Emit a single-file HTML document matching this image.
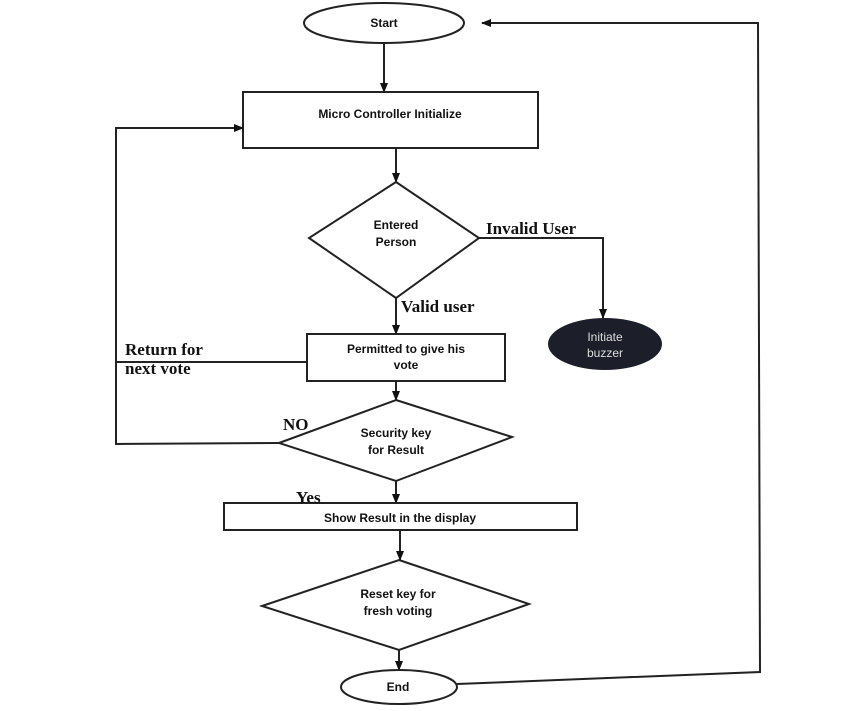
<!DOCTYPE html>
<html><head><meta charset="utf-8"><style>
html,body{margin:0;padding:0;background:#fff;}
svg{display:block;}
.s{font-family:"Liberation Sans",sans-serif;font-size:12px;font-weight:bold;fill:#111;}
.r{font-family:"Liberation Serif",serif;font-size:17px;font-weight:bold;fill:#111;}
</style></head><body>
<svg width="844" height="711" viewBox="0 0 844 711" xmlns="http://www.w3.org/2000/svg">
<defs><marker id="a" markerWidth="10" markerHeight="10" refX="9" refY="5" orient="auto" markerUnits="userSpaceOnUse"><path d="M0,1 L10,5 L0,9 z" fill="#111"/></marker></defs>
<g stroke="#222" stroke-width="2" fill="none">
<ellipse cx="384" cy="23" rx="80" ry="20"/>
<line x1="384" y1="43" x2="384" y2="92" marker-end="url(#a)"/>
<rect x="243" y="92" width="295" height="56"/>
<line x1="396" y1="148" x2="396" y2="182" marker-end="url(#a)"/>
<polygon points="396,182 479,238 396,298 309,238"/>
<polyline points="479,238 603,238 603,318" marker-end="url(#a)"/>
<line x1="396" y1="298" x2="396" y2="334" marker-end="url(#a)"/>
<rect x="307" y="334" width="198" height="47"/>
<polyline points="307,362 116,362"/>
<polyline points="279,443 116,444 116,128 243,128" marker-end="url(#a)"/>
<line x1="396" y1="381" x2="396" y2="400" marker-end="url(#a)"/>
<polygon points="396,400 512,437 396,481 279,443"/>
<line x1="396" y1="481" x2="396" y2="503" marker-end="url(#a)"/>
<rect x="224" y="503" width="353" height="27"/>
<line x1="400" y1="530" x2="400" y2="560" marker-end="url(#a)"/>
<polygon points="399,560 529,604 399,650 262,606"/>
<line x1="399" y1="650" x2="399" y2="670" marker-end="url(#a)"/>
<ellipse cx="399" cy="687" rx="58" ry="17"/>
<polyline points="457,684 760,672 758,23 482,23" marker-end="url(#a)"/>
</g>
<ellipse cx="605" cy="344" rx="57" ry="26" fill="#1c1f2a"/>
<text class="s" x="384" y="27" text-anchor="middle">Start</text>
<text class="s" x="390" y="118" text-anchor="middle">Micro Controller Initialize</text>
<text class="s" x="396" y="229" text-anchor="middle">Entered</text>
<text class="s" x="396" y="246" text-anchor="middle">Person</text>
<text class="r" x="486" y="234">Invalid User</text>
<text class="r" x="401" y="312">Valid user</text>
<text font-family="Liberation Sans,sans-serif" font-size="12" fill="#ddd" x="605" y="341" text-anchor="middle">Initiate</text>
<text font-family="Liberation Sans,sans-serif" font-size="12" fill="#ddd" x="605" y="357" text-anchor="middle">buzzer</text>
<text class="s" x="406" y="353" text-anchor="middle">Permitted to give his</text>
<text class="s" x="406" y="369" text-anchor="middle">vote</text>
<text class="r" x="125" y="355">Return for</text>
<text class="r" x="125" y="374">next vote</text>
<text class="r" x="283" y="430">NO</text>
<text class="s" x="396" y="437" text-anchor="middle">Security key</text>
<text class="s" x="396" y="454" text-anchor="middle">for Result</text>
<text class="r" x="296" y="503">Yes</text>
<text class="s" x="400" y="522" text-anchor="middle">Show Result in the display</text>
<text class="s" x="398" y="598" text-anchor="middle">Reset key for</text>
<text class="s" x="398" y="615" text-anchor="middle">fresh voting</text>
<text class="s" x="398" y="691" text-anchor="middle">End</text>
</svg>
</body></html>
